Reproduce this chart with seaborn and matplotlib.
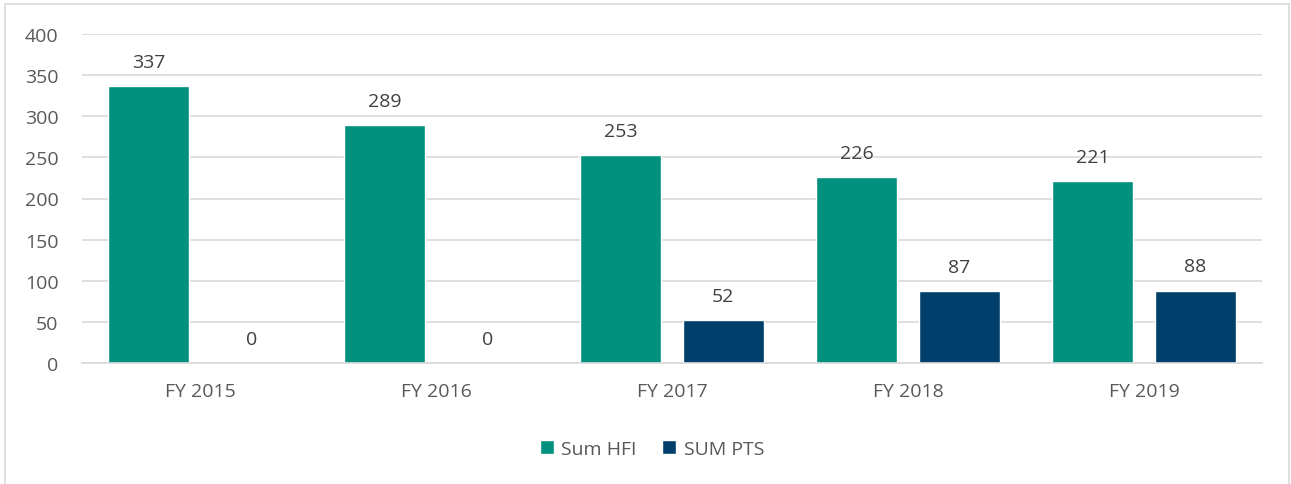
import matplotlib
matplotlib.use("Agg")
import matplotlib.pyplot as plt
import seaborn as sns
import pandas as pd
from matplotlib.patches import Rectangle

categories = ["FY 2015", "FY 2016", "FY 2017", "FY 2018", "FY 2019"]
sum_hfi = [337, 289, 253, 226, 221]
sum_pts = [0, 0, 52, 87, 88]
series_names = ["Sum HFI", "SUM PTS"]
colors = ["#00907E", "#003F6B"]

df = pd.DataFrame({
    "cat": categories * 2,
    "val": sum_hfi + sum_pts,
    "series": [series_names[0]] * 5 + [series_names[1]] * 5,
})

sns.set_style("white")
plt.rcParams["font.family"] = ["Open Sans", "DejaVu Sans"]
txt = "#595959"
fs = 14

fig = plt.figure(figsize=(12.91, 4.85), dpi=100)
ax = fig.add_axes([82 / 1291, 1 - 364 / 485, 1180 / 1291, 329 / 485])
sns.barplot(data=df, x="cat", y="val", hue="series", palette=colors,
            width=0.87, gap=0.211, ax=ax, legend=True, saturation=1)

ax.set_ylim(0, 400)
ax.set_xlim(-0.5, 4.5)
ax.set_yticks(range(0, 401, 50))
ax.yaxis.grid(True, color="#D9D9D9", linewidth=1.2)
ax.set_axisbelow(True)
for s in ["top", "right", "left"]:
    ax.spines[s].set_visible(False)
ax.spines["bottom"].set_color("#D9D9D9")
ax.spines["bottom"].set_linewidth(1.2)
ax.tick_params(axis="both", length=0, labelsize=fs, colors=txt)
ax.tick_params(axis="x", pad=14)
ax.tick_params(axis="y", pad=17)
ax.set_xlabel("")
ax.set_ylabel("")

for cont in ax.containers:
    ax.bar_label(cont, labels=[f"{int(v)}" for v in cont.datavalues],
                 padding=11, fontsize=fs, color="#404040")

leg = ax.legend(loc="center", bbox_to_anchor=(652 / 1291, 1 - 450 / 485),
                bbox_transform=fig.transFigure, ncol=2,
                frameon=False, fontsize=fs, handlelength=0.7, handleheight=0.7,
                columnspacing=1.3, handletextpad=0.4)
for t in leg.get_texts():
    t.set_color(txt)

fig.patches.append(Rectangle((5 / 1291, -0.05), 1284 / 1291, 1.05 - 5 / 485,
                             transform=fig.transFigure, fill=False,
                             edgecolor="#D9D9D9", linewidth=1.2))

fig.savefig("out.png", dpi=100, facecolor="white")
